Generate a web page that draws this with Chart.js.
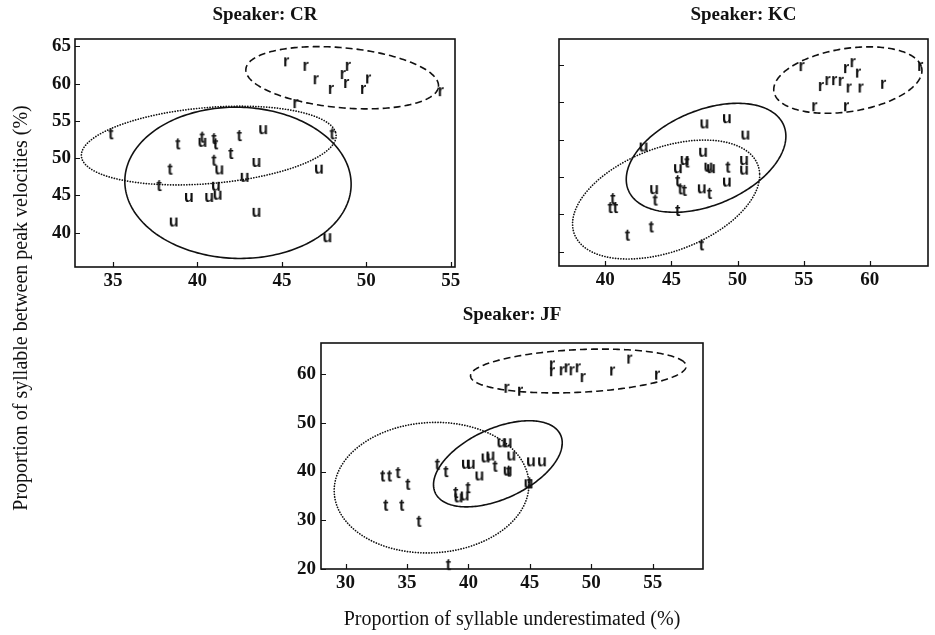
<!DOCTYPE html>
<html>
<head>
<meta charset="utf-8">
<script src="https://cdn.jsdelivr.net/npm/chart.js@4.4.0/dist/chart.umd.min.js"></script>
<style>
  body { margin: 0; background: #fff; }
  #wrap { position: relative; width: 935px; height: 635px; overflow: hidden; background: #fff; }
  canvas { position: absolute; }
</style>
</head>
<body>
<div id="wrap">
  <canvas id="cr" width="470" height="635" style="left:0;top:0;width:470px;height:635px"></canvas>
  <canvas id="kc" width="455" height="300" style="left:480px;top:0;width:455px;height:300px"></canvas>
  <canvas id="jf" width="500" height="335" style="left:220px;top:300px;width:500px;height:335px"></canvas>
</div>
<script>
// axis titles
const xTitle = "Proportion of syllable underestimated (%)";
const yTitle = "Proportion of syllable between peak velocities (%)";

// Speaker CR: [underestimated %, between peaks %]
const crR = [[45.25, 63.0], [46.4, 62.4], [47.0, 60.6], [47.9, 59.3], [48.6, 61.3], [48.9, 62.4],
             [48.8, 60.1], [49.8, 59.3], [50.1, 60.7], [54.4, 59.0], [45.8, 57.4]];
const crT = [[34.9, 53.35], [38.86, 52.0], [40.3, 52.9], [41.0, 52.7], [41.1, 52.0], [42.5, 53.1],
             [42.0, 50.7], [41.0, 49.8], [38.4, 48.6], [37.75, 46.4], [48.0, 53.35]];
const crU = [[43.9, 53.9], [40.3, 52.2], [43.5, 49.5], [41.3, 48.5], [42.8, 47.5], [47.2, 48.6],
             [41.1, 46.3], [41.2, 45.1], [40.7, 44.8], [39.5, 44.8], [43.5, 42.8], [38.6, 41.5], [47.7, 39.4]];
// ellipses: centre plus two conjugate half-axes, in data units
const crEll = [
  { group: "r", c: [48.57, 60.8], u: [5.7, -1.2], v: [0.2, 4.0] },
  { group: "t", c: [40.67, 51.7], u: [7.5, 1.84], v: [-0.8, 4.95] },
  { group: "u", c: [42.4, 46.7], u: [6.7, -0.2], v: [0, 10.15] }
];

// Speaker KC
const kcR = [[54.84, 64.87], [58.7, 65.4], [58.2, 64.6], [59.1, 64.0], [56.3, 62.2], [56.8, 63.0], [57.3, 63.0],
             [57.8, 62.9], [58.4, 62.0], [59.3, 62.0], [61.0, 62.5], [63.8, 64.9], [55.8, 59.5], [58.2, 59.5]];
const kcT = [[46.2, 52.1], [49.3, 51.4], [45.5, 49.6], [45.7, 48.5], [46.0, 48.3], [47.9, 47.9], [43.8, 47.0],
             [45.5, 45.6], [40.6, 47.2], [40.4, 46.0], [40.8, 46.0], [43.5, 43.4], [41.7, 42.3], [47.3, 41.0]];
const kcU = [[47.5, 57.2], [49.2, 57.9], [50.6, 55.7], [42.9, 54.1], [47.4, 53.4], [50.5, 52.3], [46.0, 52.3],
             [45.5, 51.2], [47.8, 51.4], [48.0, 51.2], [50.5, 51.0], [49.2, 49.4], [47.3, 48.5], [43.7, 48.4]];
const kcEll = [
  { group: "r", c: [58.34, 63.0], u: [5.56, 1.78], v: [-0.69, 4.08] },
  { group: "t", c: [44.6, 47.0], u: [7.07, 3.51], v: [-0.24, 7.15] },
  { group: "u", c: [47.62, 52.59], u: [5.98, 1.96], v: [0.81, 7.03] }
];

// Speaker JF
const jfR = [[46.8, 62.0], [46.8, 60.6], [47.6, 60.8], [48.0, 61.4], [48.4, 60.8], [48.9, 61.4],
             [49.3, 59.4], [51.7, 60.75], [53.1, 63.2], [55.35, 59.9], [43.1, 57.2], [44.2, 56.6]];
const jfT = [[33.05, 39.2], [33.6, 39.2], [34.3, 39.9], [35.1, 37.5], [33.3, 33.2], [34.6, 33.2], [36.0, 29.9],
             [37.5, 41.6], [38.2, 40.1], [39.0, 35.8], [40.0, 36.8], [38.4, 21.0], [42.2, 41.2], [43.3, 40.2], [45.0, 37.8]];
const jfU = [[39.8, 41.6], [40.2, 41.6], [41.4, 42.9], [41.8, 43.3], [40.9, 39.2], [42.7, 46.0], [43.2, 46.0],
             [43.5, 43.3], [43.2, 40.2], [45.1, 42.1], [46.0, 42.1], [39.7, 35.1], [39.2, 34.7], [44.9, 37.6]];
const jfEll = [
  { group: "r", c: [48.95, 60.65], u: [8.6, 1.85], v: [-1.75, 4.1] },
  { group: "t", c: [37.0, 36.7], u: [7.92, 1.1], v: [-0.3, 13.36] },
  { group: "u", c: [42.4, 41.6], u: [5.24, 4.38], v: [-0.06, 7.68] }
];

const SERIF = '"Liberation Serif", "Times New Roman", serif';
const SANS = '"Liberation Sans", Arial, sans-serif';
const INK = "#111";

// letter used as point marker, centred on its ink box
function glyph(ch) {
  const c = document.createElement("canvas");
  c.width = 14; c.height = 18;
  const g = c.getContext("2d");
  g.font = "bold 16px " + SANS;
  g.fillStyle = INK;
  const m = g.measureText(ch);
  const w = m.actualBoundingBoxLeft + m.actualBoundingBoxRight;
  const h = m.actualBoundingBoxAscent + m.actualBoundingBoxDescent;
  g.fillText(ch, Math.round((c.width - w) / 2 + m.actualBoundingBoxLeft), Math.round((c.height - h) / 2 + m.actualBoundingBoxAscent));
  return c;
}
const marks = { r: glyph("r"), t: glyph("t"), u: glyph("u") };
const dashFor = { r: [7, 4], t: [0.1, 2.6], u: [] };

function ellipsePlugin(list) {
  return {
    id: "ellipses",
    beforeDatasetsDraw(chart) {
      const { ctx, scales: { x, y } } = chart;
      ctx.save();
      ctx.strokeStyle = INK;
      list.forEach(e => {
        ctx.setLineDash(dashFor[e.group]);
        ctx.lineCap = e.group === "t" ? "round" : "butt";
        ctx.lineWidth = e.group === "t" ? 1.7 : 1.6;
        ctx.beginPath();
        for (let i = 0; i <= 240; i++) {
          const a = i / 240 * Math.PI * 2;
          const px = x.getPixelForValue(e.c[0] + e.u[0] * Math.cos(a) + e.v[0] * Math.sin(a));
          const py = y.getPixelForValue(e.c[1] + e.u[1] * Math.cos(a) + e.v[1] * Math.sin(a));
          if (i === 0) ctx.moveTo(px, py); else ctx.lineTo(px, py);
        }
        ctx.stroke();
      });
      ctx.restore();
    }
  };
}

// box round the plot with short ticks pointing inwards
const framePlugin = {
  id: "frame",
  afterDraw(chart) {
    const { ctx, chartArea: a, scales: { x, y } } = chart;
    ctx.save();
    ctx.strokeStyle = INK;
    ctx.lineWidth = 1.6;
    ctx.strokeRect(a.left, a.top, a.right - a.left, a.bottom - a.top);
    ctx.lineWidth = 1.2;
    ctx.beginPath();
    x.ticks.forEach(t => {
      const p = Math.round(x.getPixelForValue(t.value)) + 0.5;
      ctx.moveTo(p, a.bottom); ctx.lineTo(p, a.bottom - 5);
    });
    y.ticks.forEach(t => {
      const p = Math.round(y.getPixelForValue(t.value)) + 0.5;
      ctx.moveTo(a.left, p); ctx.lineTo(a.left + 5, p);
    });
    ctx.stroke();
    ctx.restore();
  }
};

const sideTitle = {
  id: "sideTitle",
  afterDraw(chart) {
    const ctx = chart.ctx;
    ctx.save();
    ctx.translate(22, 308);
    ctx.rotate(-Math.PI / 2);
    ctx.font = "20px " + SERIF;
    ctx.fillStyle = INK;
    ctx.textAlign = "center";
    ctx.textBaseline = "middle";
    ctx.fillText(yTitle, 0, 0);
    ctx.restore();
  }
};

const tickFont = { family: SERIF, size: 19, weight: "bold" };

function series(pts, key) {
  return {
    label: key,
    data: pts.map(p => ({ x: p[0], y: p[1] })),
    pointStyle: marks[key],
    pointRadius: 6,
    showLine: false,
    clip: false
  };
}

function panel(id, title, r, t, u, ell, o) {
  const plugins = [ellipsePlugin(ell), framePlugin].concat(o.extra || []);
  return new Chart(document.getElementById(id), {
    type: "scatter",
    data: { datasets: [series(r, "r"), series(t, "t"), series(u, "u")] },
    options: {
      responsive: false,
      animation: false,
      layout: { padding: o.pad },
      plugins: {
        legend: { display: false },
        tooltip: { enabled: false },
        title: {
          display: true, text: title, fullSize: false, color: INK,
          font: { family: SERIF, size: 19, weight: "bold" },
          padding: o.titlePad
        }
      },
      scales: {
        x: {
          type: "linear", min: o.x[0], max: o.x[1],
          grid: { display: false, drawTicks: false },
          border: { display: false },
          ticks: { stepSize: o.x[2], includeBounds: false, color: INK, font: tickFont, padding: 3, maxRotation: 0, autoSkip: false },
          title: o.xTitle ? { display: true, text: xTitle, color: INK, font: { family: SERIF, size: 20 }, padding: { top: 0, bottom: 3 } } : { display: false },
          afterFit: s => { s.height = o.xh; }
        },
        y: {
          type: "linear", min: o.y[0], max: o.y[1],
          grid: { display: false, drawTicks: false },
          border: { display: false },
          ticks: { stepSize: o.y[2], includeBounds: false, display: o.yLabels, color: INK, font: tickFont, padding: o.ypad, autoSkip: false },
          afterFit: s => { s.width = o.yw; }
        }
      }
    },
    plugins: plugins
  });
}

panel("cr", "Speaker: CR", crR, crT, crU, crEll, {
  x: [32.75, 55.25, 5], y: [35.4, 66.0, 5], yLabels: true, ypad: 4,
  yw: 75, xh: 33, pad: { left: 0, right: 15, top: 0, bottom: 335 },
  titlePad: { top: 4, bottom: 12.2 }, extra: [sideTitle]
});

panel("kc", "Speaker: KC", kcR, kcT, kcU, kcEll, {
  x: [36.5, 64.4, 5], y: [38.1, 68.5, 5], yLabels: false, ypad: 4,
  yw: 79, xh: 34, pad: { left: 0, right: 2, top: 0, bottom: 0 },
  titlePad: { top: 4, bottom: 12.2 }
});

panel("jf", "Speaker: JF", jfR, jfT, jfU, jfEll, {
  x: [28, 59.1, 5], y: [20, 66.4, 10], yLabels: true, ypad: 5,
  yw: 101, xh: 66, pad: { left: 0, right: 17, top: 0, bottom: 0 },
  titlePad: { top: 3.6, bottom: 16.6 }, xTitle: true
});
</script>
</body>
</html>
